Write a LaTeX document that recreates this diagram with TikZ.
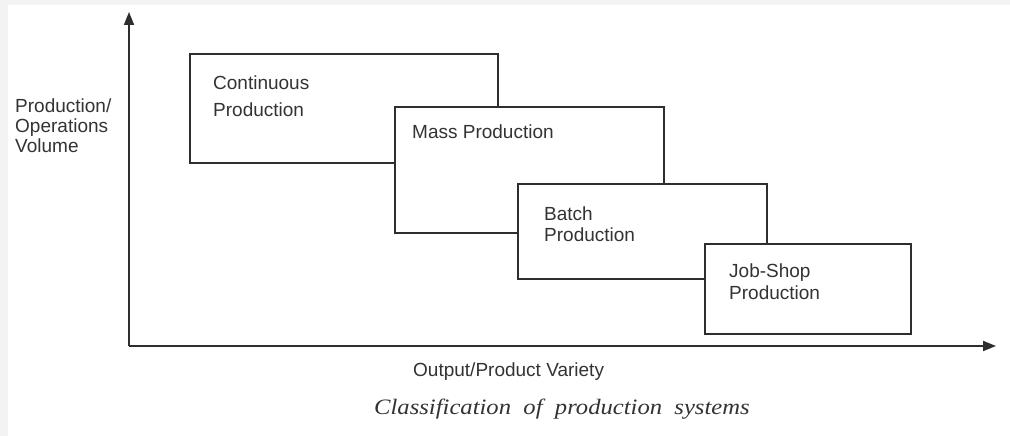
\documentclass[tikz,border=0pt]{standalone}
\usepackage{fontspec}
\usepackage{graphicx}
\setmainfont{Liberation Sans}
\newfontfamily\capfont{Liberation Serif}
\usetikzlibrary{arrows.meta}
\definecolor{ink}{HTML}{2E2E2E}
\definecolor{txt}{HTML}{333333}
\definecolor{frame}{HTML}{F3F3F3}
\begin{document}
\begin{tikzpicture}[x=1pt,y=-1pt,
  stagebox/.style={draw=ink,line width=1.7pt,fill=white,anchor=north west,inner sep=0pt},
  lbl/.style={text=txt,font=\fontsize{19}{21}\selectfont,anchor=base west,inner sep=0pt},
  axis/.style={draw=ink,line width=1.8pt,-{Triangle[length=13pt,width=10pt]}}]
  % canvas with a faint frame along the top and left edges
  \fill[frame] (0,0) rectangle (1010,436);
  \fill[white] (8,5) rectangle (1010,436);
  \useasboundingbox (0,0) rectangle (1010,436);

  % axes
  \coordinate (origin) at (129,346);
  \coordinate (ytip) at (129,12);
  \coordinate (xtip) at (996,346);
  \draw[axis] (origin) -- (ytip);
  \draw[axis] (origin) -- (xtip);

  % overlapping production-system boxes, each drawn over the previous one
  \node[stagebox,minimum width=308pt,minimum height=109pt] (cont) at (189,53) {};
  \node[stagebox,minimum width=269pt,minimum height=126pt] (mass) at (394,106) {};
  \node[stagebox,minimum width=249pt,minimum height=95pt] (batch) at (517,183) {};
  \node[stagebox,minimum width=206pt,minimum height=90pt] (job) at (704,243) {};

  % box texts
  \node[lbl] (contA) at (213,89) {Continuous};
  \node[lbl] (contB) at (213,116.5) {Production};
  \node[lbl] (massA) at (412,139) {Mass Production};
  \node[lbl] (batchA) at (544,220.5) {Batch};
  \node[lbl] (batchB) at (544,241.5) {Production};
  \node[lbl] (jobA) at (729,277) {Job-Shop};
  \node[lbl] (jobB) at (729,299) {Production};

  % axis titles
  \node[lbl] (yA) at (15,112) {Production/};
  \node[lbl] (yB) at (15,132) {Operations};
  \node[lbl] (yC) at (15,152.5) {Volume};
  \node[lbl] (xA) at (413,376.5) {Output/Product Variety};

  % caption
  \node[text=txt,font=\capfont\itshape\fontsize{22}{24}\selectfont,anchor=base west,inner sep=0pt] (cap) at (374,414)
    {\scalebox{1.12}[1]{Classification\ \ of\ \ production\ \ systems}};
\end{tikzpicture}
\end{document}
